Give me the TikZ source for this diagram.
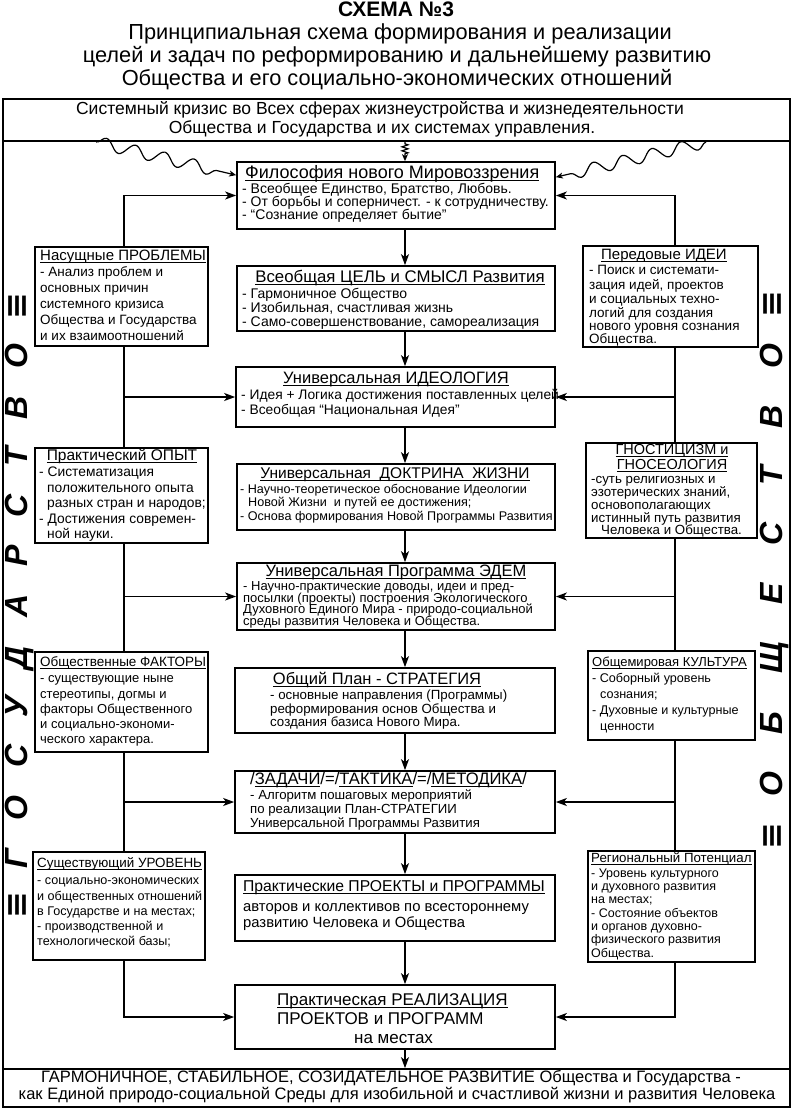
\documentclass[tikz,border=0pt]{standalone}
\usepackage{fontspec}
\setmainfont{Liberation Sans}
\newfontfamily\dejav{DejaVu Sans}
\newfontfamily\vlfont[LetterSpace=88]{Liberation Sans}
\newfontfamily\vrfont[LetterSpace=118]{Liberation Sans}
\usetikzlibrary{arrows.meta,decorations.pathmorphing,calc}
\newcommand\fs[1]{\fontsize{#1}{#1}\selectfont}
\newcommand\ulx[1]{\sbox0{#1}\rlap{\rule[-2.4pt]{\wd0}{1.1pt}}\usebox0}
\tikzset{
  bx/.style={draw, line width=1.7pt, inner sep=0pt, rectangle},
  tx/.style={inner sep=0pt, anchor=mid west},
  tc/.style={inner sep=0pt, anchor=mid},
  ln/.style={line width=1.6pt},
  arr/.style={ln, -{Stealth[length=11pt,width=8pt,inset=3pt]}},
  sarr/.style={line width=1.2pt, -{Stealth[length=7pt,width=6pt,inset=2pt]}},
}
\newcommand\mkbox[5]{\node[bx, minimum width={#4-#2}, minimum height={#5-#3}] (#1) at ({(#2+#4)/2},{(#3+#5)/2}) {};}
\begin{document}
\begin{tikzpicture}[x=1pt,y=-1pt]
\useasboundingbox (0,0) rectangle (793,1109);
% ---------- title
\node[tc] (t0) at (396,14) {\fs{21}\bfseries СХЕМА №3};
\node[tc] (t1) at (400,37) {\fs{21.8}Принципиальная схема формирования и реализации};
\node[tc] (t2) at (397,60) {\fs{21.8}целей и задач по реформированию и дальнейшему развитию};
\node[tc] (t3) at (397,83) {\fs{21.8}Общества и его социально-экономических отношений};
% ---------- frame
\mkbox{top}{3}{99}{790}{141}
\mkbox{frame}{3}{141}{790}{1069}
\mkbox{bot}{3}{1069}{790}{1107}
\node[tc] (top-1) at (380,112) {\fs{17.5}Системный кризис во Всех сферах жизнеустройства и жизнедеятельности};
\node[tc] (top-2) at (382,131) {\fs{17.5}Общества и Государства и их системах управления.};
\node[tc] (bot-1) at (391,1080) {\fs{16.5}ГАРМОНИЧНОЕ, СТАБИЛЬНОЕ, СОЗИДАТЕЛЬНОЕ РАЗВИТИЕ Общества и Государства -};
\node[tc] (bot-2) at (397,1097) {\fs{16.5}как Единой природо-социальной Среды для изобильной и счастливой жизни и развития Человека};
% ---------- centre boxes
\mkbox{phil}{237}{162}{555}{229}
\node[tx] (phil-t) at (245,176) {\fs{18}\ulx{Философия нового Мировоззрения}};
\node[tx] (phil-1) at (242,191) {\fs{14}- Всеобщее Единство, Братство, Любовь.};
\node[tx] (phil-2) at (242,204) {\fs{14}- От борьбы и соперничест. - к сотрудничеству.};
\node[tx] (phil-3) at (242,217) {\fs{14}- “Сознание определяет бытие”};

\mkbox{cel}{237}{266}{555}{331}
\node[tc] (cel-t) at (400,280) {\fs{16.8}\ulx{Всеобщая ЦЕЛЬ и СМЫСЛ Развития}};
\node[tx] (cel-1) at (242,296) {\fs{14}- Гармоничное Общество};
\node[tx] (cel-2) at (242,310) {\fs{14}- Изобильная, счастливая жизнь};
\node[tx] (cel-3) at (242,324) {\fs{14}- Само-совершенствование, самореализация};

\mkbox{ideo}{236}{367}{555}{427}
\node[tc] (ideo-t) at (396,381) {\fs{16.5}\ulx{Универсальная ИДЕОЛОГИЯ}};
\node[tx] (ideo-1) at (241,397) {\fs{13.8}- Идея + Логика достижения поставленных целей};
\node[tx] (ideo-2) at (241,412) {\fs{13.8}- Всеобщая “Национальная Идея”};

\mkbox{doct}{237}{464}{555}{530}
\node[tc] (doct-t) at (395,476) {\fs{15.5}\ulx{Универсальная\ \ ДОКТРИНА\ \ ЖИЗНИ}};
\node[tx] (doct-1) at (240,491) {\fs{12.6}- Научно-теоретическое обоснование Идеологии};
\node[tx] (doct-2) at (248,504) {\fs{12.6}Новой Жизни\ \ и путей ее достижения;};
\node[tx] (doct-3) at (240,518) {\fs{12.6}- Основа формирования Новой Программы Развития};

\mkbox{edem}{237}{563}{555}{630}
\node[tc] (edem-t) at (396,574) {\fs{16.5}\ulx{Универсальная Программа ЭДЕМ}};
\node[tx] (edem-1) at (243,588) {\fs{13}- Научно-практические доводы, идеи и пред-};
\node[tx] (edem-2) at (243,600) {\fs{13}посылки (проекты) построения Экологического};
\node[tx] (edem-3) at (243,611) {\fs{13}Духовного Единого Мира - природо-социальной};
\node[tx] (edem-4) at (243,623) {\fs{13}среды развития Человека и Общества.};

\mkbox{plan}{235}{668}{555}{733}
\node[tc] (plan-t) at (377,682) {\fs{16.5}\ulx{Общий План - СТРАТЕГИЯ}};
\node[tx] (plan-1) at (270,697) {\fs{13.3}- основные направления (Программы)};
\node[tx] (plan-2) at (270,711) {\fs{13.3}реформирования основ Общества и};
\node[tx] (plan-3) at (270,724) {\fs{13.3}создания базиса Нового Мира.};

\mkbox{task}{235}{771}{555}{833}
\node[tx] (task-t) at (250,782) {\fs{16.6}/\ulx{ЗАДАЧИ}/=/\ulx{ТАКТИКА}/=/\ulx{МЕТОДИКА}/};
\node[tx] (task-1) at (250,797) {\fs{13.2}- Алгоритм пошаговых мероприятий};
\node[tx] (task-2) at (250,811) {\fs{13.2}по реализации План-СТРАТЕГИИ};
\node[tx] (task-3) at (250,825) {\fs{13.2}Универсальной Программы Развития};

\mkbox{proj}{235}{875}{555}{941}
\node[tx] (proj-t) at (243,889) {\fs{15.7}\ulx{Практические ПРОЕКТЫ и ПРОГРАММЫ}};
\node[tx] (proj-1) at (243,909) {\fs{14.8}авторов и коллективов по всестороннему};
\node[tx] (proj-2) at (243,925) {\fs{14.8}развитию Человека и Общества};

\mkbox{real}{235}{985}{555}{1049}
\node[tx] (real-1) at (277,1003) {\fs{17}\ulx{Практическая РЕАЛИЗАЦИЯ}};
\node[tx] (real-2) at (277,1022) {\fs{17}ПРОЕКТОВ и ПРОГРАММ};
\node[tx] (real-3) at (354,1041) {\fs{17}на местах};
% ---------- left boxes
\mkbox{L1}{35}{247}{208}{346}
\node[tx] (L1-t) at (40,258) {\fs{15}\ulx{Насущные ПРОБЛЕМЫ}};
\node[tx] (L1-1) at (40,274) {\fs{13.5}- Анализ проблем и};
\node[tx] (L1-2) at (40,290) {\fs{13.5}основных причин};
\node[tx] (L1-3) at (40,306) {\fs{13.5}системного кризиса};
\node[tx] (L1-4) at (40,322) {\fs{13.5}Общества и Государства};
\node[tx] (L1-5) at (40,338) {\fs{13.5}и их взаимоотношений};

\mkbox{L2}{35}{448}{208}{543}
\node[tc] (L2-t) at (122,458) {\fs{15.5}\ulx{Практический ОПЫТ}};
\node[tx] (L2-1) at (39,474) {\fs{13.8}- Систематизация};
\node[tx] (L2-2) at (47,490) {\fs{13.8}положительного опыта};
\node[tx] (L2-3) at (47,505) {\fs{13.8}разных стран и народов;};
\node[tx] (L2-4) at (39,521) {\fs{13.8}- Достижения современ-};
\node[tx] (L2-5) at (47,536) {\fs{13.8}ной науки.};

\mkbox{L3}{35}{652}{208}{752}
\node[tx] (L3-t) at (40,664) {\fs{13.5}\ulx{Общественные ФАКТОРЫ}};
\node[tx] (L3-1) at (40,680) {\fs{13}- существующие ныне};
\node[tx] (L3-2) at (40,696) {\fs{13}стереотипы, догмы и};
\node[tx] (L3-3) at (40,711) {\fs{13}факторы Общественного};
\node[tx] (L3-4) at (40,726) {\fs{13}и социально-экономи-};
\node[tx] (L3-5) at (40,741) {\fs{13}ческого характера.};

\mkbox{L4}{33}{852}{205}{960}
\node[tx] (L4-t) at (37,865) {\fs{13.4}\ulx{Существующий УРОВЕНЬ}};
\node[tx] (L4-1) at (37,882) {\fs{12.6}- социально-экономических};
\node[tx] (L4-2) at (37,898) {\fs{12.6}и общественных отношений};
\node[tx] (L4-3) at (37,913) {\fs{12.6}в Государстве и на местах;};
\node[tx] (L4-4) at (37,928) {\fs{12.6}- производственной и};
\node[tx] (L4-5) at (37,943) {\fs{12.6}технологической базы;};
% ---------- right boxes
\mkbox{R1}{583}{246}{758}{347}
\node[tx] (R1-t) at (601,257) {\fs{15}\ulx{Передовые ИДЕИ}};
\node[tx] (R1-1) at (589,272) {\fs{13.5}- Поиск и системати-};
\node[tx] (R1-2) at (589,287) {\fs{13.5}зация идей, проектов};
\node[tx] (R1-3) at (589,301) {\fs{13.5}и социальных техно-};
\node[tx] (R1-4) at (589,315) {\fs{13.5}логий для создания};
\node[tx] (R1-5) at (589,328) {\fs{13.5}нового уровня сознания};
\node[tx] (R1-6) at (589,341) {\fs{13.5}Общества.};

\mkbox{R2}{586}{443}{757}{538}
\node[tc] (R2-t1) at (672,452) {\fs{14.5}\ulx{ГНОСТИЦИЗМ и}};
\node[tc] (R2-t2) at (672,467) {\fs{14.5}\ulx{ГНОСЕОЛОГИЯ}};
\node[tx] (R2-1) at (591,481) {\fs{13.3}-суть религиозных и};
\node[tx] (R2-2) at (591,494) {\fs{13.3}эзотерических знаний,};
\node[tx] (R2-3) at (591,507) {\fs{13.3}основополагающих};
\node[tx] (R2-4) at (591,520) {\fs{13.3}истинный путь развития};
\node[tx] (R2-5) at (601,532) {\fs{13.3}Человека и Общества.};

\mkbox{R3}{588}{651}{755}{740}
\node[tx] (R3-t) at (592,664) {\fs{13}\ulx{Общемировая КУЛЬТУРА}};
\node[tx] (R3-1) at (592,680) {\fs{12.6}- Соборный уровень};
\node[tx] (R3-2) at (600,696) {\fs{12.6}сознания;};
\node[tx] (R3-3) at (592,712) {\fs{12.6}- Духовные и культурные};
\node[tx] (R3-4) at (600,728) {\fs{12.6}ценности};

\mkbox{R4}{588}{851}{755}{962}
\node[tx] (R4-t) at (591,860) {\fs{13.3}\ulx{Региональный Потенциал}};
\node[tx] (R4-1) at (591,875) {\fs{12.5}- Уровень культурного};
\node[tx] (R4-2) at (591,888) {\fs{12.5}и духовного развития};
\node[tx] (R4-3) at (591,901) {\fs{12.5}на местах;};
\node[tx] (R4-4) at (591,915) {\fs{12.5}- Состояние объектов};
\node[tx] (R4-5) at (591,928) {\fs{12.5}и органов духовно-};
\node[tx] (R4-6) at (591,941) {\fs{12.5}физического развития};
\node[tx] (R4-7) at (591,955) {\fs{12.5}Общества.};
% ---------- vertical words
\node[rotate=90, inner sep=0pt] (gos) at (20,606) {\fs{32}{\dejav\bfseries ≡}\hspace{24pt}{\vlfont\bfseries\itshape ГОСУДАРСТВО}\hspace{24pt}{\dejav\bfseries ≡}};
\node[rotate=90, inner sep=0pt] (obs) at (775,570) {\fs{32}{\dejav\bfseries ≡}\hspace{26pt}{\vrfont\bfseries\itshape ОБЩЕСТВО}\hspace{26pt}{\dejav\bfseries ≡}};
% ---------- connectors
\coordinate (cx) at (405,0);
\coordinate (lx) at (124,0);
\coordinate (rx) at (675,0);
\foreach \a/\b in {phil/cel, cel/ideo, ideo/doct, doct/edem, edem/plan, plan/task, task/proj, proj/real}
  \draw[arr] (\a.south -| cx) -- (\b.north -| cx);
\draw[arr] (real.south -| cx) -- (bot.north -| cx);
% left
\draw[arr] (L1.north -| lx) |- (phil.west);
\draw[ln] (L1.south -| lx) -- (L2.north -| lx);
\draw[arr] (lx |- ideo.west) -- (ideo.west);
\draw[ln] (L2.south -| lx) -- (L3.north -| lx);
\draw[arr] (lx |- edem.west) -- (edem.west);
\draw[ln] (L3.south -| lx) -- (L4.north -| lx);
\draw[arr] (lx |- task.west) -- (task.west);
\draw[arr] (L4.south -| lx) |- (real.west);
% right
\draw[arr] (R1.north -| rx) |- (phil.east);
\draw[ln] (R1.south -| rx) -- (R2.north -| rx);
\draw[arr] (rx |- ideo.east) -- (ideo.east);
\draw[ln] (R2.south -| rx) -- (R3.north -| rx);
\draw[arr] (rx |- edem.east) -- (edem.east);
\draw[ln] (R3.south -| rx) -- (R4.north -| rx);
\draw[arr] (rx |- task.east) -- (task.east);
\draw[arr] (R4.south -| rx) |- (real.east);
% wavy arrows from the crisis
\coordinate (wl) at (96,142);
\coordinate (wr) at (706,142);
\draw[sarr, decorate, decoration={snake, amplitude=6pt, segment length=30pt, post length=12pt}] (wl) -- ($(phil.north west)+(0,14)$);
\draw[sarr, decorate, decoration={snake, amplitude=6pt, segment length=30pt, post length=12pt}] (wr) -- ($(phil.north east)+(0,16)$);
\draw[sarr, decorate, decoration={zigzag, amplitude=3pt, segment length=4pt, pre length=2pt, post length=7pt}] (top.south -| cx) -- (phil.north -| cx);
\end{tikzpicture}
\end{document}
